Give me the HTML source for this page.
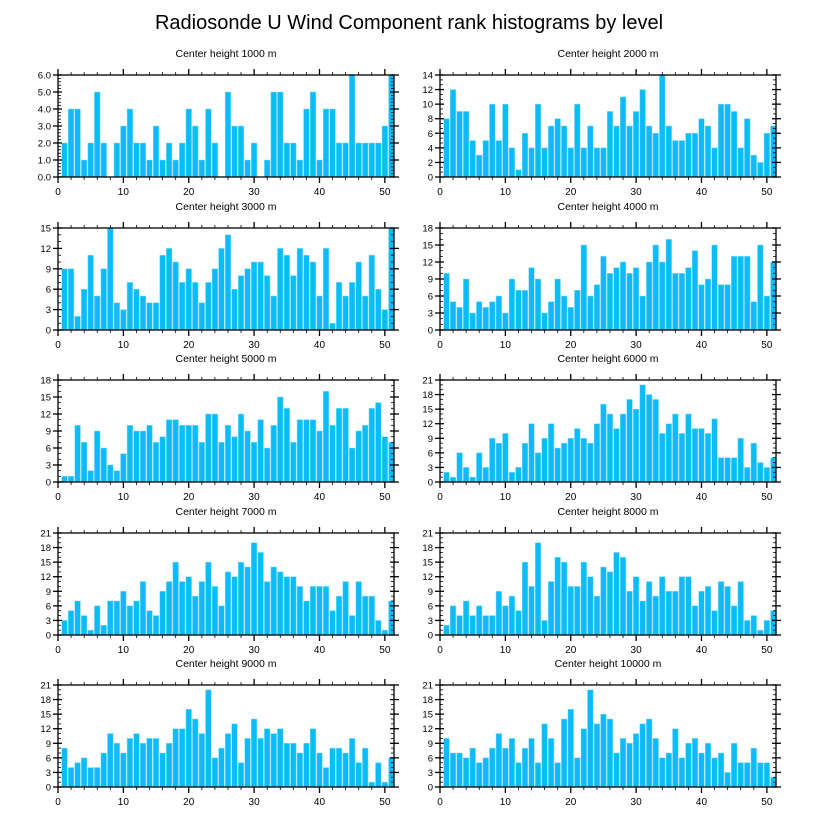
<!DOCTYPE html>
<html><head><meta charset="utf-8"><style>
body{margin:0;background:#fff;}
svg{display:block;font-family:"Liberation Sans",Arial,sans-serif;}
</style></head><body>
<svg id="chart" width="818" height="824" viewBox="0 0 818 824">
<text x="409" y="29" text-anchor="middle" font-size="20">Radiosonde U Wind Component rank histograms by level</text>
</svg>
<script>
const levels = [1000,2000,3000,4000,5000,6000,7000,8000,9000,10000];
const yMaxes = [6,14,15,18,18,21,21,21,21,21];
const yStepsMajor = [1,2,3,3,3,3,3,3,3,3];
const xTickLabels = [0,10,20,30,40,50];
const h1000 = [2,4,4,1,2,5,2,0,2,3,4,2,2,1,3,1,2,1,2,4,3,1,4,2,0,5,3,3,1,2,0,1,5,5,2,2,1,4,5,1,4,4,2,2,6,2,2,2,2,3,6];
const h2000 = [8,12,9,9,5,3,5,10,5,10,4,1,6,4,10,4,7,8,7,4,10,4,7,4,4,9,7,11,7,9,12,7,6,14,7,5,5,6,6,8,7,4,10,10,9,4,8,3,2,6,7];
const h3000 = [9,9,2,6,11,5,9,15,4,3,7,6,5,4,4,11,12,10,7,9,7,4,7,9,12,14,6,8,9,10,10,8,5,12,11,8,12,11,10,5,12,1,7,5,7,10,5,11,6,3,15];
const h4000 = [10,5,4,9,3,5,4,5,6,3,9,7,7,11,9,3,5,9,6,4,7,15,6,8,13,10,11,12,10,11,6,12,15,12,16,10,10,11,14,8,9,15,8,8,13,13,13,5,15,6,12];
const h5000 = [1,1,10,7,2,9,6,3,2,5,10,9,9,10,7,8,11,11,10,10,10,7,12,12,7,10,8,12,9,7,11,6,10,15,13,7,11,11,11,9,16,10,13,13,6,9,10,13,14,8,7];
const h6000 = [2,1,6,3,1,6,3,9,8,10,2,3,8,12,6,9,12,7,8,9,11,9,8,12,16,14,11,14,17,15,20,18,17,10,12,14,10,14,11,11,10,13,5,5,5,9,3,8,4,3,5];
const h7000 = [3,5,7,4,1,6,2,7,7,9,6,7,11,5,4,9,11,15,11,12,8,11,15,10,6,13,12,15,14,19,17,11,14,13,12,12,10,7,10,10,10,5,8,11,4,11,8,8,3,1,7];
const h8000 = [2,6,4,7,4,6,4,4,9,6,8,5,15,10,19,3,11,16,15,10,10,15,12,8,14,13,17,16,9,12,7,11,8,12,9,9,12,12,6,9,10,5,11,10,6,11,3,4,1,3,5];
const h9000 = [8,4,5,6,4,4,7,11,9,7,10,11,9,10,10,7,9,12,12,16,14,11,20,6,8,11,13,5,10,14,10,12,11,12,9,9,7,9,12,7,4,8,8,7,10,5,8,1,5,1,6];
const h10000 = [10,7,7,6,8,5,6,8,11,8,10,5,8,10,5,13,10,5,14,16,6,12,20,13,15,14,7,10,9,11,13,14,10,6,7,12,6,9,10,7,9,6,7,3,9,5,5,8,5,5,2];
const series = [h1000,h2000,h3000,h4000,h5000,h6000,h7000,h8000,h9000,h10000];

const NS = "http://www.w3.org/2000/svg";
const svg = document.getElementById('chart');
const colX = [58, 440];
const rowY = [75, 228, 380, 533, 685];
const PW = 336, PH = 102, XMAX = 51.4;
function mk(tag, attrs, parent){const e=document.createElementNS(NS,tag);for(const k in attrs)e.setAttribute(k,attrs[k]);(parent||svg).appendChild(e);return e;}

series.forEach((vals, p) => {
  const x0 = colX[p%2], y0 = rowY[Math.floor(p/2)];
  const ymax = yMaxes[p], step = yStepsMajor[p];
  const xs = v => x0 + v/XMAX*PW;
  const ys = v => y0 + PH - v/ymax*PH;
  const g = mk('g', {});
  
  
  const t = mk('text', {x: x0+PW/2, y: y0-18, 'text-anchor':'middle','font-size':'10.5'}, g);
  t.textContent = 'Center height ' + levels[p] + ' m';
  
  
  vals.forEach((v, i) => {
    const c = i+1, w = 0.86/XMAX*PW;
    const r = mk('rect', {x: xs(c)-w/2, y: ys(v), width: w, height: ys(0)-ys(v), fill:'#0cbcf8', stroke:'#7fdcfc', 'stroke-width':'0.5'}, g);
    
    
  });
  const fr = mk('rect', {x:x0, y:y0, width:PW, height:PH, fill:'none', stroke:'#000', 'stroke-width':'1.3'}, g);
  
  
  // x ticks
  for (let v=0; v<=XMAX; v+=2){
    const major = v%10===0, L = major?6:3;
    mk('line',{x1:xs(v),x2:xs(v),y1:y0+PH,y2:y0+PH+L,stroke:'#000','stroke-width':major?1.3:0.8},g);
    mk('line',{x1:xs(v),x2:xs(v),y1:y0,y2:y0-L,stroke:'#000','stroke-width':major?1.3:0.8},g);
  }
  xTickLabels.forEach(v => {
    const tl = mk('text',{x:xs(v),y:y0+PH+18,'text-anchor':'middle','font-size':'10'},g);
    tl.textContent = v;
    
    
  });
  // y ticks
  const minor = step/ (p===0?5:3);
  for (let k=0; k<=Math.round(ymax/minor); k++){
    const v = k*minor, yy = ys(v);
    const major = Math.abs(v/step - Math.round(v/step))<1e-6;
    if (major){
      mk('line',{x1:x0-5,x2:x0+4,y1:yy,y2:yy,stroke:'#000','stroke-width':1.3},g);
      mk('line',{x1:x0+PW-4,x2:x0+PW+5,y1:yy,y2:yy,stroke:'#000','stroke-width':1.3},g);
      const yl = mk('text',{x:x0-7,y:yy+3.5,'text-anchor':'end','font-size':'9.5'},g);
      yl.textContent = p===0 ? v.toFixed(1) : Math.round(v);
      
      
    } else {
      mk('line',{x1:x0,x2:x0+3,y1:yy,y2:yy,stroke:'#000','stroke-width':0.8},g);
      mk('line',{x1:x0+PW-3,x2:x0+PW,y1:yy,y2:yy,stroke:'#000','stroke-width':0.8},g);
    }
  }
});
</script>
</body></html>
